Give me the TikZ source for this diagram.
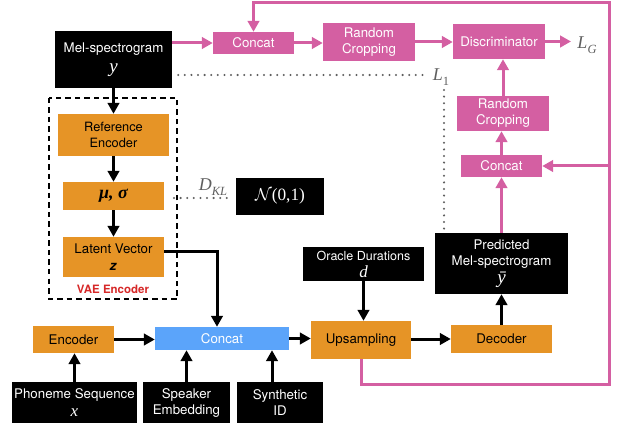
\documentclass[tikz,border=0pt]{standalone}
\usepackage{fontspec}
\setmainfont{TeX Gyre Heros}
\newfontfamily\serifit{Liberation Serif}
\usetikzlibrary{arrows.meta}

\definecolor{boxorange}{RGB}{230,148,38}
\definecolor{boxpink}{RGB}{212,95,162}
\definecolor{boxblue}{RGB}{91,164,250}
\definecolor{vaered}{RGB}{214,40,40}
\definecolor{dotgray}{RGB}{95,95,95}

% italic serif symbols inside the boxes and in the loss labels
\newcommand\svar[2][19]{{\fontsize{#1}{#1}\selectfont\serifit\itshape #2}}
\newcommand\ssub[1]{\raisebox{-4.5pt}{\fontsize{12.5}{12.5}\selectfont\serifit\itshape #1}}

\tikzset{
  base/.style={inner sep=0pt, align=center, font=\fontsize{13.3}{16}\selectfont},
  darkbox/.style={base, fill=black, text=white},
  orangebox/.style={base, fill=boxorange, text=black},
  pinkbox/.style={base, fill=boxpink, text=white},
  bluebox/.style={base, fill=boxblue, text=white},
  blackarrow/.style={draw=black, line width=3pt, -{Triangle[length=11pt,width=11.5pt]}},
  pinkarrow/.style={draw=boxpink, line width=3pt, -{Triangle[length=11pt,width=11.5pt]}},
  dotline/.style={draw=dotgray, line width=2.3pt, line cap=round, dash pattern=on 0pt off 6.6pt},
  graylabel/.style={text=dotgray, inner sep=0pt},
}

\begin{document}
\begin{tikzpicture}[x=1pt, y=-1pt]
\useasboundingbox (0,0) rectangle (620,427);

% VAE encoder frame
\draw[line width=2.8pt, dash pattern=on 5.5pt off 4pt] (49,98) rectangle (177,299);
\node[inner sep=0pt, text=vaered, font=\fontsize{11.5}{13}\selectfont\bfseries] (vae) at (113,289) {VAE Encoder};

% boxes
\node[darkbox, minimum width=117pt, minimum height=57pt] (mel) at (113.5,59.5) {Mel-spectrogram\\[4pt]\svar{y}};
\node[pinkbox, minimum width=81pt, minimum height=22pt] (cat1) at (253.5,43) {Concat};
\node[pinkbox, minimum width=92pt, minimum height=38pt] (rc1) at (369,42) {Random\\Cropping};
\node[pinkbox, minimum width=92pt, minimum height=35pt] (disc) at (499,41.5) {Discriminator};
\node[pinkbox, minimum width=92pt, minimum height=35pt] (rc2) at (503,113.5) {Random\\Cropping};
\node[pinkbox, minimum width=81pt, minimum height=22pt] (cat2) at (501.5,166) {Concat};
\node[darkbox, minimum width=133pt, minimum height=61pt] (pred) at (501.5,263.5) {Predicted\\Mel-spectrogram\\[2pt]\svar{ȳ}};
\node[darkbox, minimum width=121pt, minimum height=34pt, font=\fontsize{12.5}{14}\selectfont] (oracle) at (363.5,264) {Oracle Durations\\[3pt]\svar[17]{d}};
\node[orangebox, minimum width=100pt, minimum height=38pt] (ups) at (361,340) {Upsampling};
\node[orangebox, minimum width=101pt, minimum height=28pt] (dec) at (501.5,339) {Decoder};
\node[darkbox, minimum width=88pt, minimum height=37pt] (normal) at (280,196.5) {{\fontsize{17.28}{18}\selectfont$\mathcal{N}$\serifit(0,1)}};
\node[orangebox, minimum width=111pt, minimum height=42pt, font=\fontsize{12.8}{16}\selectfont] (refenc) at (113.5,135) {Reference\\Encoder};
\node[orangebox, minimum width=101pt, minimum height=28pt] (musig) at (113.5,196) {\svar[18]{\bfseries μ, σ}};
\node[orangebox, minimum width=101pt, minimum height=40pt] (latent) at (113.5,257) {Latent Vector\\[1pt]\textbf{\textit{z}}};
\node[orangebox, minimum width=81pt, minimum height=27pt] (enc) at (73.5,339.5) {Encoder};
\node[bluebox, minimum width=134pt, minimum height=23pt] (cat3) at (222,338.5) {Concat};
\node[darkbox, minimum width=125pt, minimum height=41pt] (phon) at (74.5,402.5) {Phoneme Sequence\\[2pt]\svar[17]{x}};
\node[darkbox, minimum width=87pt, minimum height=41pt] (spk) at (186.5,402.5) {Speaker\\Embedding};
\node[darkbox, minimum width=86pt, minimum height=41pt] (syn) at (280,402.5) {Synthetic\\ID};

% loss labels
\node[graylabel] (lg) at (587,45) {\svar[18]{L}\ssub{G}};
\node[graylabel] (l1) at (441,77) {\svar[18]{L}\raisebox{-4.5pt}{\fontsize{12.5}{12.5}\selectfont\serifit 1}};
\node[graylabel] (dkl) at (213,187) {\svar[18]{D}\ssub{KL}};

% free ends of connectors
\coordinate (lgin) at (571,41.5);
\coordinate (l1end) at (428,75);
\coordinate (l1top) at (444,90);
\coordinate (dklstart) at (174,198);
\coordinate (dklend) at (231,198);
\coordinate (turn) at (217,252);
\coordinate (loopbl) at (361,384);
\coordinate (loopbr) at (609,384);
\coordinate (looptr) at (609,3);
\coordinate (looptl) at (253.5,3);
\coordinate (loopmid) at (609,166);
\coordinate (synup) at (272,382);

% dotted comparisons
\draw[dotline] ([xshift=6pt]mel.east |- l1end) -- (l1end);
\draw[dotline] (l1top) -- (l1top |- pred.north);
\draw[dotline] (dklstart) -- (dklend);

% VAE chain
\draw[blackarrow] (mel.south) -- (refenc.north);
\draw[blackarrow] (refenc.south) -- (musig.north);
\draw[blackarrow] (musig.south) -- (latent.north);
\draw[blackarrow] (latent.east |- turn) -- (turn) -- (turn |- cat3.north);

% main synthesis path
\draw[blackarrow] (phon.north) -- (phon.north |- enc.south);
\draw[blackarrow] (enc.east) -- (cat3.west |- enc.east);
\draw[blackarrow] (spk.north) -- (spk.north |- cat3.south);
\draw[blackarrow] (synup) -- (synup |- cat3.south);
\draw[blackarrow] (cat3.east) -- (ups.west |- cat3.east);
\draw[blackarrow] (oracle.south) -- (oracle.south |- ups.north);
\draw[blackarrow] (ups.east |- dec.west) -- (dec.west);
\draw[blackarrow] (dec.north) -- (dec.north |- pred.south);

% adversarial branch
\draw[pinkarrow] (mel.east |- cat1.west) -- (cat1.west);
\draw[pinkarrow] (cat1.east) -- (rc1.west |- cat1.east);
\draw[pinkarrow] (rc1.east) -- (disc.west |- rc1.east);
\draw[pinkarrow] (disc.east) -- (lgin);
\draw[pinkarrow] (pred.north) -- (pred.north |- cat2.south);
\draw[pinkarrow] (cat2.north) -- (cat2.north |- rc2.south);
\draw[pinkarrow] (rc2.north) -- (rc2.north |- disc.south);
\draw[pinkarrow] (ups.south) -- (loopbl) -- (loopbr) -- (looptr) -- (looptl) -- (cat1.north);
\draw[pinkarrow] (loopmid) -- (cat2.east);
\end{tikzpicture}
\end{document}
